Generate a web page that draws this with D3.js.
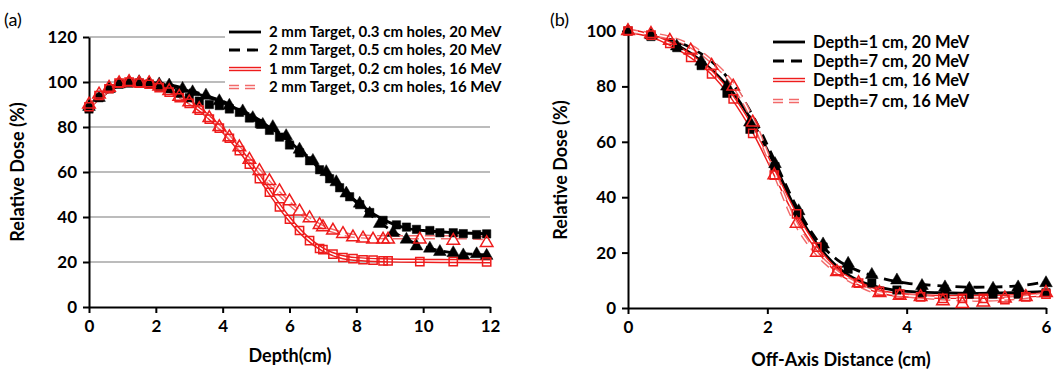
<!DOCTYPE html>
<html>
<head>
<meta charset="utf-8">
<script src="https://cdn.jsdelivr.net/npm/d3@7"></script>
<style>
  body { margin: 0; background: #fff; }
  svg text { font-family: Lato, "Open Sans", sans-serif; }
</style>
</head>
<body>
<div id="chart"></div>
<script>
// ---------- panel (a): depth dose ----------
var depthTicks = [0, 2, 4, 6, 8, 10, 12];
var doseTicksA = [0, 20, 40, 60, 80, 100, 120];
var legendA = ["2 mm Target, 0.3 cm holes, 20 MeV", "2 mm Target, 0.5 cm holes, 20 MeV",
               "1 mm Target, 0.2 cm holes, 16 MeV", "2 mm Target, 0.3 cm holes, 16 MeV"];

// model curves (depth cm, relative dose %)
var lineA0x = [0, 0.5, 1, 1.5, 2, 2.5, 3, 3.5, 4, 4.5, 5, 5.5, 6, 6.5, 7, 7.5, 8, 8.5, 9, 9.5, 10, 11, 12];
var lineA0y = [89, 95, 99, 100, 99.5, 98, 96, 93.5, 91, 87.5, 83.5, 79, 73.5, 67, 60, 53, 47, 41.5, 37.5, 35, 34, 33, 32.5];
var lineA1x = [0, 0.5, 1, 1.5, 2, 2.5, 3, 3.5, 4, 4.5, 5, 5.5, 6, 6.5, 7, 7.5, 8, 8.5, 9, 9.5, 10, 10.5, 11, 11.5, 12];
var lineA1y = [89, 95, 99, 100, 99.5, 98.5, 96.5, 94, 91.5, 88, 84, 79.5, 74, 67.5, 60.5, 53.5, 46.5, 40, 34.5, 30, 27, 25, 24, 23.5, 23];
var lineA2x = [0, 0.5, 1, 1.5, 2, 2.5, 3, 3.5, 4, 4.5, 5, 5.5, 6, 6.5, 7, 7.5, 8, 9, 10, 11, 12];
var lineA2y = [89, 95.5, 99.5, 100, 98.5, 95.5, 91, 85.5, 78.5, 70, 60, 49, 39, 31, 25.5, 22.5, 21.3, 20.7, 20.5, 20.4, 20.3];
var lineA3x = [0, 0.5, 1, 1.5, 2, 2.5, 3, 3.5, 4, 4.5, 5, 5.5, 6, 6.5, 7, 7.5, 8, 9, 10, 11, 12];
var lineA3y = [89, 95.5, 99.5, 100, 98.5, 95.5, 91, 85.5, 78.5, 70.5, 62, 53.5, 46, 40, 35.5, 33, 31.5, 31, 31, 31, 30.5];

// measured points
var ptsA0x = [0, 0.3, 0.6, 0.9, 1.2, 1.5, 1.8, 2.1, 2.4, 2.7, 3.0, 3.3, 3.6, 3.9, 4.2, 4.5, 4.8, 5.1, 5.4, 5.7, 6.0, 6.3, 6.6, 6.9, 7.2, 7.5, 7.8, 8.1, 8.4, 8.8, 9.2, 9.5, 9.8, 10.2, 10.5, 10.9, 11.2, 11.6, 11.9];
var ptsA0y = [88, 93, 97, 99, 99.5, 99.5, 99, 98, 97, 95, 93, 91.5, 90, 89.5, 88, 86.5, 84, 81.5, 78.5, 75.5, 72, 68.5, 65, 61, 57, 53, 49, 45.5, 42, 38.5, 36.5, 35.5, 34.5, 34, 33, 33, 32.6, 32.2, 32.5];
var ptsA1x = [0, 0.3, 0.6, 0.9, 1.2, 1.5, 1.8, 2.1, 2.4, 2.8, 3.1, 3.5, 3.9, 4.2, 4.6, 4.9, 5.2, 5.5, 5.9, 6.3, 6.7, 7.1, 7.4, 7.7, 8.1, 8.4, 8.7, 9.1, 9.5, 9.8, 10.2, 10.5, 10.9, 11.2, 11.6, 11.9];
var ptsA1y = [89, 93, 97, 99, 100, 100, 99.5, 99, 98.5, 97, 95.5, 94, 91.5, 89.5, 87, 84, 81, 80, 76, 70, 65, 60, 55.5, 50.5, 46, 41.5, 37, 33, 30, 27, 26, 24.5, 24, 23, 23.5, 22.8];
var ptsA2x = [0, 0.3, 0.6, 0.9, 1.2, 1.5, 1.8, 2.1, 2.4, 2.7, 3.0, 3.3, 3.6, 3.9, 4.2, 4.5, 4.8, 5.1, 5.4, 5.7, 6.0, 6.3, 6.6, 6.9, 7.0, 7.3, 7.6, 7.9, 8.2, 8.5, 8.8, 8.95, 9.9, 10.9, 11.9];
var ptsA2y = [89, 94, 97, 99.5, 100, 99.5, 99, 97.5, 95.5, 93, 90.5, 87.5, 83.5, 79.5, 75, 69.5, 63.5, 57, 51, 44.5, 39, 34, 29.5, 26, 25.5, 23.5, 22, 21.5, 21, 20.8, 20.5, 20.5, 20.2, 20.2, 20];
var ptsA3x = [0, 0.3, 0.6, 0.9, 1.2, 1.5, 1.8, 2.1, 2.4, 2.7, 3.0, 3.3, 3.6, 3.9, 4.2, 4.5, 4.8, 5.1, 5.4, 5.7, 6.0, 6.3, 6.6, 6.9, 7.0, 7.3, 7.6, 7.9, 8.2, 8.5, 8.8, 8.95, 9.9, 10.9, 11.9];
var ptsA3y = [90, 94.5, 97.5, 99.5, 100, 99.5, 99.5, 98, 96, 93.5, 91, 88, 84, 80, 75.5, 71, 65.5, 60.5, 56, 51.5, 47, 42.5, 39.5, 36.5, 35.5, 34, 32.5, 31, 30.5, 30, 30, 30, 30, 29.5, 28.5];

// ---------- panel (b): off-axis profiles ----------
var offTicks = [0, 2, 4, 6];
var doseTicksB = [0, 20, 40, 60, 80, 100];
var legendB = ["Depth=1 cm, 20 MeV", "Depth=7 cm, 20 MeV", "Depth=1 cm, 16 MeV", "Depth=7 cm, 16 MeV"];

var lineBx = [0, 0.3, 0.6, 0.9, 1.2, 1.5, 1.8, 2.1, 2.4, 2.7, 3.0, 3.3, 3.6, 4.0, 4.5, 5.0, 5.5, 6.0];
var lineB0y = [100, 98.5, 96, 92, 86, 78, 66.5, 52, 36, 23.5, 15, 10, 7.5, 6, 5.5, 5.3, 5.5, 6];
var lineB1y = [100, 99, 97, 94, 89, 81, 69, 53.5, 37.5, 25, 17.5, 13.5, 11, 9, 8, 7.5, 7.8, 9.5];
var lineB2y = [100, 98.5, 95.5, 91, 85, 76, 64, 49, 34, 22, 13.5, 9, 6, 4.5, 4, 4, 4.2, 5];
var lineB3y = [100, 99, 97.5, 94.5, 89, 81, 67.5, 49, 31, 20, 13, 8.5, 5.5, 4.5, 3.5, 3, 3.5, 5];

var ptsBbx = [0, 0.33, 0.7, 1.05, 1.42, 1.75, 2.11, 2.45, 2.8, 3.16, 3.5, 3.86, 4.22, 4.55, 4.9, 5.24, 5.6, 6];
var ptsB0y = [100, 98, 94, 87.5, 77.5, 64.5, 51, 34, 22, 14, 9, 6.5, 5.5, 5, 5, 5, 5, 5.5];
var ptsB1y = [100, 98.5, 94.5, 89, 80, 67, 52, 35, 23, 16, 12, 10, 8, 7.5, 7, 7, 7.5, 9];
var ptsBrx = [0, 0.33, 0.6, 0.9, 1.2, 1.51, 1.79, 2.1, 2.42, 2.71, 3.0, 3.31, 3.61, 3.9, 4.2, 4.52, 4.8, 5.1, 5.41, 5.71, 6];
var ptsB2y = [100, 98.5, 95.5, 90.5, 84.5, 75.5, 63, 48, 34, 22, 13.5, 9, 6, 5, 4, 3.5, 3.5, 3.5, 3, 4, 5];
var ptsB3y = [100, 99, 96.5, 93, 87.5, 80, 67, 48, 30.5, 20, 13, 9, 5.5, 4.5, 4, 2.5, 1.5, 2, 3.5, 4, 5.5];

var svg = d3.select("#chart").append("svg")
    .attr("width", 1064).attr("height", 373);

function zip(xs, ys) { return xs.map(function(x, i) { return [x, ys[i]]; }); }

var styles = [
  {kind: "black", dash: null, marker: "square"},
  {kind: "black", dash: "11,7", marker: "triangle"},
  {kind: "red", dash: null, marker: "square"},
  {kind: "red", dash: "10,6", marker: "triangle"}
];

function drawLine(g, data, x, y, st) {
  var line = d3.line().x(function(d) { return x(d[0]); }).y(function(d) { return y(d[1]); })
    .curve(d3.curveMonotoneX);
  if (st.kind == "black") {
    g.append("path").datum(data).attr("d", line).attr("fill", "none")
      .attr("stroke", "#000").attr("stroke-width", 2.8)
      .attr("stroke-dasharray", st.dash);
  } else {
    var col = st.dash ? "#f26a6a" : "#ee1c1c";
    g.append("path").datum(data).attr("d", line).attr("fill", "none")
      .attr("stroke", col).attr("stroke-width", 4.4)
      .attr("stroke-dasharray", st.dash);
    g.append("path").datum(data).attr("d", line).attr("fill", "none")
      .attr("stroke", "#fff").attr("stroke-width", 1.5)
      .attr("stroke-dasharray", st.dash);
  }
}

function drawPoints(g, data, x, y, st) {
  var sym = d3.symbol().type(st.marker == "square" ? d3.symbolSquare : d3.symbolTriangle)
    .size(st.kind == "black" ? 70 : 68);
  g.selectAll(null).data(data).enter().append("path")
    .attr("d", sym)
    .attr("transform", function(d) { return "translate(" + x(d[0]) + "," + y(d[1]) + ")"; })
    .attr("fill", st.kind == "black" ? "#000" : "none")
    .attr("stroke", st.kind == "black" ? "#000" : "#ee1c1c")
    .attr("stroke-width", st.kind == "black" ? 0.5 : 1.5);
}

function drawAxes(x, y, xt, yt, grid) {
  var g = svg.append("g");
  if (grid) {
    g.selectAll(null).data(yt.filter(function(v) { return v > 0; })).enter().append("line")
      .attr("x1", x.range()[0]).attr("x2", x.range()[1])
      .attr("y1", function(d) { return y(d); }).attr("y2", function(d) { return y(d); })
      .attr("stroke", "#a6a6a6").attr("stroke-width", 1.3);
  }
  var ax = svg.append("g").attr("transform", "translate(0," + y(0) + ")")
    .call(d3.axisBottom(x).tickValues(xt).tickFormat(d3.format("d"))
      .tickSize(6).tickPadding(7).tickSizeOuter(0));
  var ay = svg.append("g").attr("transform", "translate(" + x(0) + ",0)")
    .call(d3.axisLeft(y).tickValues(yt).tickFormat(d3.format("d"))
      .tickSize(6).tickPadding(6).tickSizeOuter(0));
  [ax, ay].forEach(function(a) {
    a.select(".domain").attr("stroke", "#000").attr("stroke-width", 2);
    a.selectAll(".tick line").attr("stroke", "#000").attr("stroke-width", 2);
    a.selectAll(".tick text").attr("fill", "#000").style("font-size", "17px")
      .style("font-weight", "bold").style("font-family", "Lato, sans-serif");
  });
}

function drawLegend(items, x0, ys, fs) {
  items.forEach(function(t, i) {
    var st = styles[i];
    var g = svg.append("g");
    drawLine(g, [[x0, ys[i]], [x0 + 32, ys[i]]], function(v) { return v; }, function(v) { return v; }, st);
    g.append("text").attr("x", x0 + 40).attr("y", ys[i]).attr("dy", "0.35em")
      .style("font-size", fs + "px").style("font-weight", "bold").text(t);
  });
}

// ----- panel (a)
var xA = d3.scaleLinear().domain([0, 12]).range([89, 490]);
var yA = d3.scaleLinear().domain([0, 120]).range([307, 37]);
drawAxes(xA, yA, depthTicks, doseTicksA, true);
var gA = svg.append("g");
drawLine(gA, zip(lineA0x, lineA0y), xA, yA, styles[0]);
drawLine(gA, zip(lineA1x, lineA1y), xA, yA, styles[1]);
drawLine(gA, zip(lineA2x, lineA2y), xA, yA, styles[2]);
drawLine(gA, zip(lineA3x, lineA3y), xA, yA, styles[3]);
drawPoints(gA, zip(ptsA0x, ptsA0y), xA, yA, styles[0]);
drawPoints(gA, zip(ptsA1x, ptsA1y), xA, yA, styles[1]);
drawPoints(gA, zip(ptsA2x, ptsA2y), xA, yA, styles[2]);
drawPoints(gA, zip(ptsA3x, ptsA3y), xA, yA, styles[3]);
svg.append("rect").attr("x", 225).attr("y", 22).attr("width", 285).attr("height", 76).attr("fill", "#fff");
drawLegend(legendA, 229, [32, 50, 69, 87], 15);

svg.append("text").attr("x", 4).attr("y", 26).style("font-size", "18px").text("(a)");
svg.append("text").attr("transform", "translate(24,172) rotate(-90)")
  .attr("text-anchor", "middle").style("font-size", "18px").style("font-weight", "bold")
  .text("Relative Dose (%)");
svg.append("text").attr("x", 290).attr("y", 362).attr("text-anchor", "middle")
  .style("font-size", "18px").style("font-weight", "bold").text("Depth(cm)");

// ----- panel (b)
var xB = d3.scaleLinear().domain([0, 6]).range([628, 1046]);
var yB = d3.scaleLinear().domain([0, 100]).range([308, 31]);
drawAxes(xB, yB, offTicks, doseTicksB, false);
var gB = svg.append("g");
drawLine(gB, zip(lineBx, lineB0y), xB, yB, styles[0]);
drawLine(gB, zip(lineBx, lineB1y), xB, yB, styles[1]);
drawLine(gB, zip(lineBx, lineB2y), xB, yB, styles[2]);
drawLine(gB, zip(lineBx, lineB3y), xB, yB, styles[3]);
drawPoints(gB, zip(ptsBbx, ptsB0y), xB, yB, styles[0]);
drawPoints(gB, zip(ptsBbx, ptsB1y), xB, yB, styles[1]);
drawPoints(gB, zip(ptsBrx, ptsB2y), xB, yB, styles[2]);
drawPoints(gB, zip(ptsBrx, ptsB3y), xB, yB, styles[3]);
drawLegend(legendB, 773, [42, 61, 80, 101], 16.5);

svg.append("text").attr("x", 550).attr("y", 26).style("font-size", "18px").text("(b)");
svg.append("text").attr("transform", "translate(567,170) rotate(-90)")
  .attr("text-anchor", "middle").style("font-size", "18px").style("font-weight", "bold")
  .text("Relative Dose (%)");
svg.append("text").attr("x", 841).attr("y", 366).attr("text-anchor", "middle")
  .style("font-size", "18px").style("font-weight", "bold").text("Off-Axis Distance (cm)");
</script>
</body>
</html>
